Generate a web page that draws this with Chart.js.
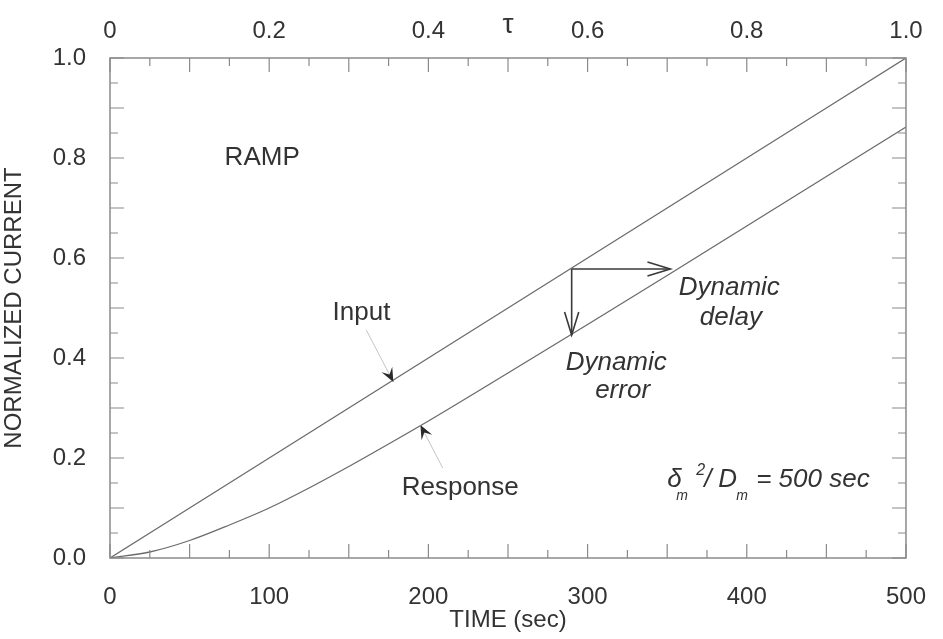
<!DOCTYPE html>
<html>
<head>
<meta charset="utf-8">
<script src="https://cdn.jsdelivr.net/npm/chart.js@4.4.1/dist/chart.umd.min.js"></script>
<style>
  html, body { margin: 0; padding: 0; background: #fff; }
  #wrap { width: 943px; height: 639px; }
</style>
</head>
<body>
<div id="wrap"><canvas id="rampChart"></canvas></div>
<script>
// time axis (sec) and the two normalized currents
const timeSec = [0, 25, 50, 75, 100, 125, 150, 175, 200, 250, 300, 350, 400, 450, 500];
const inputCurrent = [0, 0.05, 0.10, 0.15, 0.20, 0.25, 0.30, 0.35, 0.40, 0.50, 0.60, 0.70, 0.80, 0.90, 1.00];
const responseCurrent = [0, 0.012, 0.035, 0.066, 0.100, 0.140, 0.183, 0.228, 0.274, 0.370, 0.467, 0.565, 0.664, 0.763, 0.862];

const xTickLabels = ['0', '100', '200', '300', '400', '500'];
const yTickLabels = ['0.0', '0.2', '0.4', '0.6', '0.8', '1.0'];
const tauTickLabels = ['0', '0.2', '0.4', '0.6', '0.8', '1.0'];

const FONT = '"Liberation Sans", Arial, sans-serif';
const INK = '#333';
const FRAME = '#8a8a8a';

function toPx(chart, t, v) {
  return [chart.scales.x.getPixelForValue(t), chart.scales.y.getPixelForValue(v)];
}

// frame + inward tick marks on all four sides
const frameTicks = {
  id: 'frameTicks',
  afterDatasetsDraw(chart) {
    const { ctx, chartArea: a, scales } = chart;
    ctx.save();
    ctx.strokeStyle = FRAME;
    ctx.lineWidth = 1.5;
    ctx.strokeRect(a.left, a.top, a.right - a.left, a.bottom - a.top);
    ctx.lineWidth = 1.2;
    ctx.beginPath();
    scales.x.ticks.forEach((tk, i) => {
      const px = scales.x.getPixelForValue(tk.value);
      const len = i % 2 === 0 ? 14 : 8;
      ctx.moveTo(px, a.bottom); ctx.lineTo(px, a.bottom - len);
      ctx.moveTo(px, a.top); ctx.lineTo(px, a.top + len);
    });
    scales.y.ticks.forEach((tk, i) => {
      const py = scales.y.getPixelForValue(tk.value);
      const len = i % 2 === 0 ? 14 : 8;
      ctx.moveTo(a.left, py); ctx.lineTo(a.left + len, py);
      ctx.moveTo(a.right, py); ctx.lineTo(a.right - len, py);
    });
    ctx.stroke();
    ctx.restore();
  }
};

function openHead(ctx, x, y, ang, len, spread) {
  ctx.beginPath();
  ctx.moveTo(x - len * Math.cos(ang - spread), y - len * Math.sin(ang - spread));
  ctx.lineTo(x, y);
  ctx.lineTo(x - len * Math.cos(ang + spread), y - len * Math.sin(ang + spread));
  ctx.stroke();
}

function dartHead(ctx, x, y, ang, len, half) {
  const dx = Math.cos(ang), dy = Math.sin(ang);
  const nx = -dy, ny = dx;
  ctx.beginPath();
  ctx.moveTo(x, y);
  ctx.lineTo(x - dx * len + nx * half, y - dy * len + ny * half);
  ctx.lineTo(x - dx * len * 0.6, y - dy * len * 0.6);
  ctx.lineTo(x - dx * len - nx * half, y - dy * len - ny * half);
  ctx.closePath();
  ctx.fill();
}

// labels, leader arrows and the dynamic delay / error arrows
const notes = {
  id: 'notes',
  afterDatasetsDraw(chart) {
    const { ctx } = chart;
    ctx.save();
    ctx.fillStyle = INK;
    ctx.textBaseline = 'middle';

    ctx.font = '26px ' + FONT;
    ctx.textAlign = 'left';
    let p = toPx(chart, 72, 0.80);
    ctx.fillText('RAMP', p[0], p[1]);

    ctx.textAlign = 'center';
    p = toPx(chart, 158, 0.49);
    ctx.fillText('Input', p[0], p[1]);
    p = toPx(chart, 220, 0.14);
    ctx.fillText('Response', p[0], p[1]);

    ctx.font = 'italic 26px ' + FONT;
    p = toPx(chart, 389, 0.54);
    ctx.fillText('Dynamic', p[0], p[1]);
    p = toPx(chart, 390, 0.48);
    ctx.fillText('delay', p[0], p[1]);
    p = toPx(chart, 318, 0.39);
    ctx.fillText('Dynamic', p[0], p[1]);
    p = toPx(chart, 322, 0.335);
    ctx.fillText('error', p[0], p[1]);

    // leader lines with dart heads
    const leaders = [[161, 0.456, 178, 0.352], [209, 0.18, 195, 0.266]];
    leaders.forEach(([t0, v0, t1, v1]) => {
      const a = toPx(chart, t0, v0), b = toPx(chart, t1, v1);
      ctx.strokeStyle = '#c4c4c4';
      ctx.lineWidth = 1;
      ctx.beginPath(); ctx.moveTo(a[0], a[1]); ctx.lineTo(b[0], b[1]); ctx.stroke();
      ctx.fillStyle = '#2a2a2a';
      dartHead(ctx, b[0], b[1], Math.atan2(b[1] - a[1], b[0] - a[0]), 14, 6);
    });

    // dynamic delay (horizontal) and dynamic error (vertical)
    const c = toPx(chart, 290, 0.578);
    const h = toPx(chart, 352, 0.578);
    const v = toPx(chart, 290, 0.446);
    ctx.strokeStyle = '#3a3a3a';
    ctx.lineWidth = 1.6;
    ctx.beginPath();
    ctx.moveTo(c[0], c[1]); ctx.lineTo(h[0], h[1]);
    ctx.moveTo(c[0], c[1]); ctx.lineTo(v[0], v[1]);
    ctx.stroke();
    openHead(ctx, h[0], h[1], 0, 24, 0.3);
    openHead(ctx, v[0], v[1], Math.PI / 2, 24, 0.3);

    // δm² / Dm = 500 sec
    ctx.fillStyle = INK;
    ctx.textAlign = 'left';
    p = toPx(chart, 350, 0.156);
    const x = p[0];
    const y = p[1];
    ctx.font = 'italic 26px ' + FONT;
    ctx.fillText('δ', x, y);
    ctx.fillText('/', x + 37, y);
    ctx.fillText('D', x + 51, y);
    ctx.fillText('= 500 sec', x + 89, y);
    ctx.font = 'italic 14px ' + FONT;
    ctx.fillText('m', x + 9, y + 16);
    ctx.fillText('m', x + 69, y + 16);
    ctx.font = 'italic 16px ' + FONT;
    ctx.fillText('2', x + 29, y - 9);
    ctx.restore();
  }
};

new Chart(document.getElementById('rampChart'), {
  type: 'line',
  data: {
    datasets: [{
      label: 'Input',
      data: timeSec.map((t, i) => ({ x: t, y: inputCurrent[i] })),
      borderColor: '#6b6b6b',
      borderWidth: 1.3,
      pointRadius: 0,
      fill: false
    }, {
      label: 'Response',
      data: timeSec.map((t, i) => ({ x: t, y: responseCurrent[i] })),
      borderColor: '#6b6b6b',
      borderWidth: 1.3,
      pointRadius: 0,
      cubicInterpolationMode: 'monotone',
      fill: false
    }]
  },
  options: {
    responsive: true,
    maintainAspectRatio: false,
    animation: false,
    layout: { padding: { left: 0, right: 24, top: 0, bottom: 0 } },
    plugins: { legend: { display: false }, tooltip: { enabled: false } },
    scales: {
      x: {
        type: 'linear', position: 'bottom', min: 0, max: 500,
        grid: { display: false }, border: { display: false },
        ticks: {
          stepSize: 25, autoSkip: false, maxRotation: 0, padding: 17,
          color: INK, font: { family: FONT, size: 24 },
          callback: (v, i) => i % 4 === 0 ? xTickLabels[i / 4] : ''
        },
        title: { display: true, text: 'TIME (sec)', color: INK, font: { family: FONT, size: 24 }, padding: { top: 0, bottom: 4 } },
        afterFit: s => { s.height = 81; }
      },
      tau: {
        type: 'linear', position: 'top', min: 0, max: 1,
        grid: { display: false }, border: { display: false },
        ticks: {
          stepSize: 0.2, autoSkip: false, maxRotation: 0, padding: 4,
          color: INK, font: { family: FONT, size: 24 },
          callback: (v, i) => tauTickLabels[i]
        },
        title: { display: true, text: 'τ', color: INK, font: { family: FONT, size: 28 }, padding: { top: 8, bottom: 0 } },
        afterFit: s => { s.height = 58; }
      },
      y: {
        type: 'linear', min: 0, max: 1,
        grid: { display: false }, border: { display: false },
        ticks: {
          stepSize: 0.05, autoSkip: false, padding: 16,
          color: INK, font: { family: FONT, size: 24 },
          callback: (v, i) => i % 4 === 0 ? yTickLabels[i / 4] : ''
        },
        title: { display: true, text: 'NORMALIZED CURRENT', color: INK, font: { family: FONT, size: 24 }, padding: { top: 0, bottom: 0 } },
        afterFit: s => { s.width = 110; }
      }
    }
  },
  plugins: [frameTicks, notes]
});
</script>
</body>
</html>
